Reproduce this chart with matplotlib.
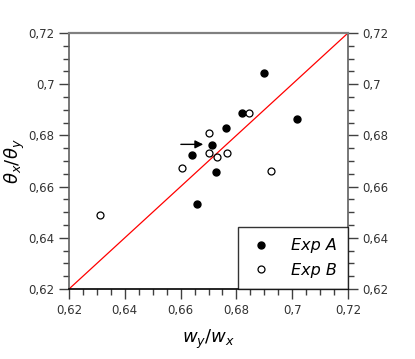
import matplotlib
matplotlib.use("Agg")
import matplotlib.pyplot as plt
from matplotlib.ticker import MultipleLocator, FuncFormatter

# Data
expA_x = [0.6900, 0.6821, 0.6762, 0.6713, 0.6640, 0.6728, 0.6658, 0.7018]
expA_y = [0.7045, 0.6886, 0.6830, 0.6764, 0.6725, 0.6656, 0.6531, 0.6864]
expB_x = [0.6845, 0.6703, 0.6701, 0.6730, 0.6767, 0.6604, 0.6924, 0.6311]
expB_y = [0.6889, 0.6811, 0.6731, 0.6717, 0.6731, 0.6673, 0.6662, 0.6490]
line_x = [0.62, 0.72]
line_y = [0.62, 0.72]
arrow_start = (0.6601, 0.6765)
arrow_end = (0.6681, 0.6765)

fig = plt.figure(figsize=(4.15, 3.59), dpi=100)
ax = fig.add_axes([69/415, 70/359, 279/415, 256/359])

ax.plot(line_x, line_y, color='red', lw=0.9, zorder=2)
ax.plot(expA_x, expA_y, 'o', color='black', ms=5, label='Exp A', zorder=3)
ax.plot(expB_x, expB_y, 'o', mfc='white', mec='black', mew=0.9, ms=5, label='Exp B', zorder=3)
ax.annotate('', xy=arrow_end, xytext=arrow_start,
            arrowprops=dict(arrowstyle='-|>', color='black', lw=1.0, mutation_scale=12,
                            shrinkA=0, shrinkB=0))

ax.set_xlim(0.62, 0.72)
ax.set_ylim(0.62, 0.72)

fmt = FuncFormatter(lambda v, p: ('%.2f' % v).rstrip('0').replace('.', ','))
for a in (ax.xaxis, ax.yaxis):
    a.set_major_locator(MultipleLocator(0.02))
    a.set_minor_locator(MultipleLocator(0.005))
    a.set_major_formatter(fmt)

ax.tick_params(axis='both', which='both', direction='out', color='#404040', labelsize=8.5, labelcolor='#333333')
ax.tick_params(axis='both', which='major', length=7, width=1)
ax.tick_params(axis='both', which='minor', length=4, width=1)
ax.tick_params(axis='y', which='both', left=True, right=True, labelleft=True, labelright=True)
ax.tick_params(axis='x', which='both', bottom=True, top=False)

ax.spines['left'].set_color('#606060')
ax.spines['right'].set_color('#606060')
ax.spines['bottom'].set_color('black')
for s in ax.spines.values():
    s.set_linewidth(1.2)
ax.spines['top'].set_color('#808080')
ax.spines['top'].set_linewidth(1.6)

ax.set_xlabel(r'$w_y/w_x$', fontsize=13, labelpad=8)
ax.set_ylabel(r'$\theta_x/\theta_y$', fontsize=13)
ax.yaxis.set_label_coords(-0.15, 0.5)

leg = ax.legend(loc='lower right', bbox_to_anchor=(1.0, 0.0), borderaxespad=0,
                frameon=True, fancybox=False, edgecolor='black',
                prop={'style': 'italic', 'size': 11.5}, handletextpad=1.1,
                borderpad=0.7, labelspacing=0.6, handlelength=1.5, markerscale=1.0)
leg.get_frame().set_linewidth(1.0)

fig.savefig('out.png', dpi=100)
